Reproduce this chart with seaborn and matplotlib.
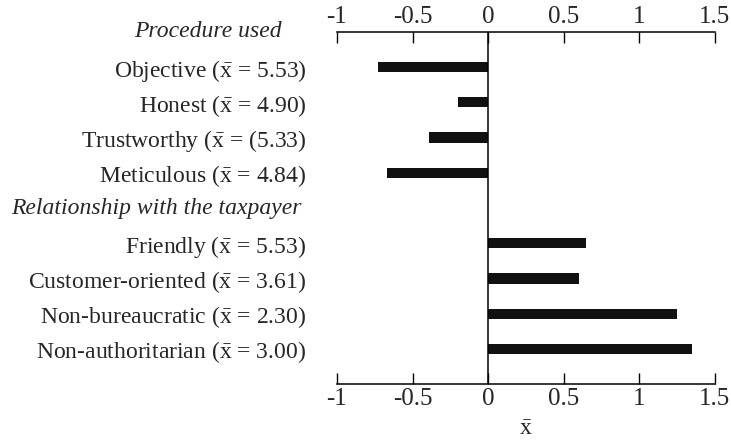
import numpy as np
import pandas as pd
import matplotlib.pyplot as plt
import seaborn as sns

sns.set_style('white')
plt.rcParams['font.family'] = ['Liberation Serif', 'DejaVu Serif']
plt.rcParams['mathtext.fontset'] = 'custom'
plt.rcParams['mathtext.rm'] = 'Liberation Serif'
plt.rcParams['mathtext.it'] = 'Liberation Serif:italic'

XBAR = r'$\bar{\mathrm{x}}$'

# data
header_1 = 'Procedure used'
items_1 = ['Objective (' + XBAR + ' = 5.53)', 'Honest (' + XBAR + ' = 4.90)',
           'Trustworthy (' + XBAR + ' = (5.33)', 'Meticulous (' + XBAR + ' = 4.84)']
values_1 = [-0.73, -0.20, -0.39, -0.67]
header_2 = 'Relationship with the taxpayer'
items_2 = ['Friendly (' + XBAR + ' = 5.53)', 'Customer-oriented (' + XBAR + ' = 3.61)',
           'Non-bureaucratic (' + XBAR + ' = 2.30)', 'Non-authoritarian (' + XBAR + ' = 3.00)']
values_2 = [0.65, 0.60, 1.25, 1.35]
x_ticks = [-1, -0.5, 0, 0.5, 1, 1.5]

cats = [header_1] + items_1 + [header_2] + items_2
vals = [0] + values_1 + [0] + values_2
df = pd.DataFrame({'label': cats, 'value': vals})

fs = 17

fig = plt.figure(figsize=(7.31, 4.44), dpi=100)
ax = fig.add_axes([0.461, 0.135, 0.517, 0.793])

sns.barplot(data=df, x='value', y='label', orient='h', color='#111111',
            width=0.29, linewidth=0, saturation=1, ax=ax)

ax.set_xlim(-1, 1.5)
ax.set_ylim(10, 0)
ax.axvline(0, color='black', lw=1.1)

for s in ['left', 'right']:
    ax.spines[s].set_visible(False)
for s in ['top', 'bottom']:
    ax.spines[s].set_color('black')
    ax.spines[s].set_linewidth(1.1)

ax.set_xticks(x_ticks)
ax.set_xticklabels(['-1', '-0.5', '0', '0.5', '1', '1.5'])
ax.tick_params(axis='x', which='both', direction='in', length=8, width=1,
               top=True, bottom=True, labeltop=True, labelbottom=True,
               labelsize=18, pad=3, color='black')
ax.tick_params(axis='y', length=0, labelsize=fs, pad=22)

# headers are drawn as plain text, item labels stay as tick labels
ylabels = [('' if c in (header_1, header_2) else c) for c in cats]
ax.set_yticks(range(len(cats)))
ax.set_yticklabels(ylabels)
ax.text(-0.146, 0, header_1, transform=ax.get_yaxis_transform(), ha='right',
        va='center', fontsize=fs, style='italic')
ax.text(-0.094, 5, header_2, transform=ax.get_yaxis_transform(), ha='right',
        va='center', fontsize=fs, style='italic')

ax.set_ylabel('')
ax.set_xlabel(XBAR, fontsize=fs, labelpad=6)

fig.savefig('out.png', dpi=100)
